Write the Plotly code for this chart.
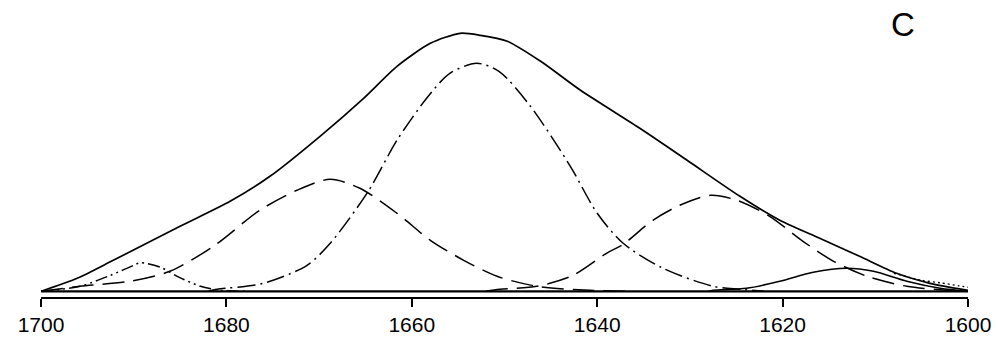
import plotly.graph_objects as go

# ---- data (wavenumber in cm-1, absorbance a.u.) ----
sum_x = [1700, 1696.1, 1692.2, 1685.0, 1679.6, 1675.3, 1669.9, 1665.2, 1661.6, 1658.0,
         1654.8, 1652.6, 1649.7, 1646.1, 1641.8, 1635.4, 1630.3, 1624.6, 1620.3, 1616.0,
         1611.7, 1607.7, 1604.1, 1600]
sum_y = [0.000, 0.013, 0.031, 0.065, 0.090, 0.115, 0.155, 0.193, 0.225, 0.248,
         0.258, 0.256, 0.250, 0.230, 0.201, 0.163, 0.131, 0.095, 0.071, 0.053,
         0.035, 0.018, 0.008, 0.001]

meas_x = [1608, 1605, 1603, 1601, 1600]
meas_y = [0.018, 0.011, 0.0085, 0.0055, 0.004]

b1653_x = [1682, 1681.0, 1676.0, 1671.3, 1668.8, 1664.7, 1661.6, 1658.4, 1655.9, 1653.0,
           1650.6, 1647.2, 1642.9, 1640.0, 1637.2, 1632.9, 1627.5, 1624.6, 1622]
b1653_y = [0.000, 0.002, 0.008, 0.026, 0.048, 0.100, 0.151, 0.193, 0.218, 0.228,
           0.220, 0.185, 0.125, 0.078, 0.048, 0.023, 0.005, 0.002, 0.000]

b1669_x = [1700, 1695.8, 1690.4, 1686.1, 1681.4, 1676.4, 1672.4, 1668.8, 1665.6, 1661.6,
           1658.0, 1654.4, 1650.8, 1646.5, 1640.8, 1636]
b1669_y = [0.000, 0.005, 0.010, 0.020, 0.045, 0.081, 0.101, 0.112, 0.103, 0.078,
           0.051, 0.031, 0.015, 0.005, 0.001, 0.000]

b1627_x = [1652, 1650.5, 1646.5, 1642.6, 1639.0, 1637.2, 1634.0, 1631.1, 1627.8, 1624.9,
           1621.4, 1617.8, 1614.5, 1610.9, 1606.6, 1602.3, 1600]
b1627_y = [0.000, 0.002, 0.005, 0.016, 0.038, 0.047, 0.071, 0.086, 0.096, 0.091,
           0.075, 0.050, 0.030, 0.015, 0.005, 0.001, 0.000]

b1613_x = [1628, 1627.5, 1623.9, 1620.3, 1616.7, 1613.1, 1610.2, 1606.6, 1603.0, 1600]
b1613_y = [0.000, 0.001, 0.003, 0.010, 0.019, 0.023, 0.020, 0.010, 0.003, 0.000]

b1689_x = [1700, 1695.8, 1692.5, 1690.0, 1689.3, 1687.1, 1685.3, 1682.8, 1680.7, 1678]
b1689_y = [0.000, 0.005, 0.016, 0.026, 0.0285, 0.024, 0.015, 0.005, 0.001, 0.000]

base_x = [1700, 1600]
base_y = [0.0, 0.0]

tick_vals = [1700, 1680, 1660, 1640, 1620, 1600]
tick_text = ["1700", "1680", "1660", "1640", "1620", "1600"]
panel_label = "C"

# ---- figure ----
fig = go.Figure()

def add(x, y, dash, width=1.5, smoothing=0.8):
    fig.add_trace(go.Scatter(x=x, y=y, mode="lines",
                             line=dict(color="black", width=width, dash=dash,
                                       shape="spline", smoothing=smoothing),
                             showlegend=False, hoverinfo="skip"))

add(base_x, base_y, "solid", 2.2)
add(b1689_x, b1689_y, "12px,4px,2px,4px,2px,4px")
add(b1669_x, b1669_y, "22px,9px")
add(b1653_x, b1653_y, "18px,5px,2px,5px")
add(b1627_x, b1627_y, "22px,9px")
add(b1613_x, b1613_y, "solid")
add(meas_x, meas_y, "2px,3px", 1.3)
add(sum_x, sum_y, "solid", 1.7, 0.7)

fig.add_annotation(text=panel_label, xref="paper", yref="paper",
                   x=0.9304, y=0.917, xanchor="center", yanchor="middle",
                   showarrow=False,
                   font=dict(family="Liberation Sans, Arial, sans-serif", size=33, color="black"))

fig.update_layout(
    width=1000, height=343,
    margin=dict(l=41, r=32, t=0, b=46),
    paper_bgcolor="white", plot_bgcolor="white",
    xaxis=dict(range=[1700, 1600], showgrid=False, zeroline=False,
               showline=True, linecolor="black", linewidth=2,
               ticks="outside", ticklen=8, tickwidth=2, tickcolor="black",
               tickvals=tick_vals, ticktext=tick_text,
               tickfont=dict(family="Liberation Sans, Arial, sans-serif", size=21, color="black"),
               automargin=False),
    yaxis=dict(range=[-0.0057, 0.2913], visible=False, showgrid=False, zeroline=False,
               automargin=False),
)

fig.write_html("out.html")
